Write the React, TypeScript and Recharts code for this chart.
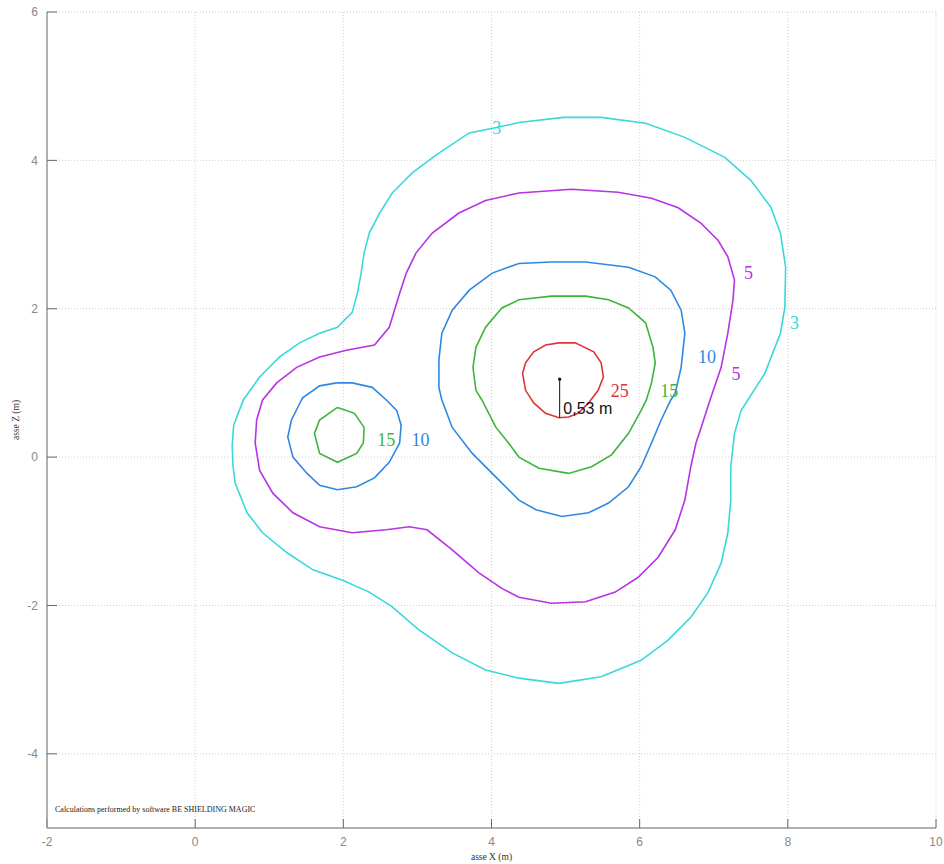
import { ScatterChart, Scatter, XAxis, YAxis, CartesianGrid } from 'recharts';

const xTicks = [-2, 0, 2, 4, 6, 8, 10];
const zTicks = [-4, -2, 0, 2, 4, 6];

// contour level 3
const c3X = [4.97, 4.37, 4.10, 3.70, 3.25, 2.93, 2.66, 2.49, 2.35, 2.28, 2.24, 2.19, 2.12, 1.92, 1.68, 1.41, 1.14, 0.87, 0.65, 0.52, 0.50, 0.51, 0.54, 0.70, 0.91, 1.24, 1.59, 1.99, 2.35, 2.66, 3.02, 3.47, 3.92, 4.37, 4.91, 5.48, 6.02, 6.38, 6.69, 6.92, 7.10, 7.19, 7.23, 7.23, 7.28, 7.37, 7.46, 7.69, 7.90, 7.96, 7.97, 7.90, 7.77, 7.50, 7.15, 6.61, 6.08, 5.48];
const c3Z = [4.58, 4.51, 4.45, 4.37, 4.07, 3.83, 3.56, 3.29, 3.02, 2.75, 2.48, 2.21, 1.95, 1.75, 1.67, 1.54, 1.35, 1.08, 0.77, 0.43, 0.16, -0.11, -0.35, -0.75, -1.02, -1.29, -1.52, -1.66, -1.82, -2.02, -2.33, -2.64, -2.87, -2.98, -3.05, -2.96, -2.74, -2.47, -2.16, -1.83, -1.43, -1.02, -0.58, -0.13, 0.32, 0.63, 0.77, 1.13, 1.67, 2.02, 2.56, 3.02, 3.37, 3.73, 4.04, 4.31, 4.50, 4.58];

// contour level 5
const c5X = [5.08, 4.37, 3.92, 3.56, 3.20, 2.98, 2.85, 2.76, 2.69, 2.62, 2.42, 2.04, 1.68, 1.37, 1.10, 0.91, 0.83, 0.81, 0.87, 1.05, 1.32, 1.68, 2.12, 2.58, 2.89, 3.13, 3.47, 3.83, 4.14, 4.37, 4.81, 5.27, 5.67, 5.98, 6.25, 6.48, 6.61, 6.69, 6.76, 6.83, 6.95, 7.10, 7.19, 7.26, 7.28, 7.19, 7.06, 6.83, 6.52, 6.16, 5.71];
const c5Z = [3.61, 3.56, 3.46, 3.29, 3.02, 2.75, 2.48, 2.21, 1.98, 1.75, 1.51, 1.44, 1.35, 1.21, 1.00, 0.77, 0.50, 0.19, -0.18, -0.49, -0.75, -0.94, -1.02, -0.98, -0.94, -0.98, -1.25, -1.56, -1.77, -1.89, -1.97, -1.95, -1.82, -1.62, -1.35, -0.98, -0.58, -0.13, 0.19, 0.40, 0.77, 1.21, 1.67, 2.12, 2.39, 2.70, 2.92, 3.15, 3.36, 3.49, 3.57];

// contour level 10 (main + small)
const c10X = [4.81, 4.37, 4.01, 3.70, 3.47, 3.33, 3.29, 3.29, 3.33, 3.47, 3.74, 4.06, 4.37, 4.60, 4.95, 5.31, 5.58, 5.85, 6.02, 6.16, 6.29, 6.42, 6.48, 6.56, 6.61, 6.56, 6.42, 6.21, 5.85, 5.27];
const c10Z = [2.63, 2.61, 2.48, 2.25, 1.98, 1.67, 1.31, 0.94, 0.77, 0.40, 0.05, -0.27, -0.58, -0.71, -0.80, -0.75, -0.62, -0.40, -0.13, 0.19, 0.50, 0.77, 0.86, 1.21, 1.67, 1.98, 2.25, 2.43, 2.56, 2.63];
const c10sX = [1.91, 1.68, 1.45, 1.30, 1.25, 1.32, 1.51, 1.68, 1.92, 2.18, 2.42, 2.62, 2.76, 2.78, 2.72, 2.58, 2.39, 2.12];
const c10sZ = [1.00, 0.96, 0.80, 0.50, 0.27, 0.00, -0.22, -0.38, -0.44, -0.40, -0.28, -0.07, 0.19, 0.43, 0.63, 0.77, 0.94, 1.00];

// contour level 15 (main + small)
const c15X = [4.81, 4.37, 4.14, 3.92, 3.79, 3.75, 3.79, 3.87, 4.06, 4.23, 4.37, 4.64, 5.04, 5.35, 5.62, 5.85, 6.02, 6.09, 6.16, 6.21, 6.18, 6.08, 5.85, 5.58, 5.27];
const c15Z = [2.17, 2.12, 2.01, 1.75, 1.48, 1.21, 0.90, 0.77, 0.40, 0.19, 0.00, -0.15, -0.22, -0.13, 0.03, 0.32, 0.63, 0.77, 1.00, 1.27, 1.48, 1.81, 2.01, 2.12, 2.17];
const c15sX = [1.92, 2.15, 2.28, 2.27, 2.18, 1.92, 1.68, 1.61, 1.68];
const c15sZ = [0.67, 0.59, 0.40, 0.19, 0.05, -0.07, 0.05, 0.32, 0.50];

// contour level 25
const c25X = [4.91, 5.13, 5.38, 5.48, 5.51, 5.44, 5.31, 5.17, 5.04, 4.91, 4.73, 4.57, 4.46, 4.42, 4.46, 4.57, 4.73];
const c25Z = [1.54, 1.54, 1.42, 1.27, 1.08, 0.90, 0.73, 0.59, 0.54, 0.53, 0.59, 0.73, 0.90, 1.13, 1.27, 1.42, 1.51];

// where the level numbers are written
const lab3X = [4.07, 8.09];
const lab3Z = [4.43, 1.81];
const lab5X = [7.47, 7.30];
const lab5Z = [2.48, 1.12];
const lab10X = [6.91, 3.04];
const lab10Z = [1.35, 0.23];
const lab15X = [6.40, 2.58];
const lab15Z = [0.89, 0.23];
const lab25X = [5.73];
const lab25Z = [0.89];

// distance marker
const markerX = [4.92, 4.92];
const markerZ = [1.05, 0.53];
const markerTextX = [4.97];
const markerTextZ = [0.65];
const markerText = '0,53 m';

const zip = (xs: number[], zs: number[]) => xs.map((x, i) => ({ x, z: zs[i] }));
const closed = (xs: number[], zs: number[]) => {
  const pts = zip(xs, zs);
  return [...pts, pts[0]];
};

const CYAN = '#3ad8d8';
const MAGENTA = '#b733e3';
const BLUE = '#2f88e0';
const GREEN = '#3db53d';
const RED = '#e0323a';

// the chart fills the whole page, so drop the default body margin
if (typeof document !== 'undefined') document.body.style.margin = '0';

const NoDot = () => <g />;

const levelText = (text: string, color: string) => (p: any) => (
  <text
    x={p.cx}
    y={p.cy}
    fill={color}
    fontSize={18}
    fontFamily="Liberation Serif"
    textAnchor="middle"
    dominantBaseline="central"
  >
    {text}
  </text>
);

const lines = [
  { key: 'c3', data: closed(c3X, c3Z), color: CYAN },
  { key: 'c5', data: closed(c5X, c5Z), color: MAGENTA },
  { key: 'c10', data: closed(c10X, c10Z), color: BLUE },
  { key: 'c10s', data: closed(c10sX, c10sZ), color: BLUE },
  { key: 'c15', data: closed(c15X, c15Z), color: GREEN },
  { key: 'c15s', data: closed(c15sX, c15sZ), color: GREEN },
  { key: 'c25', data: closed(c25X, c25Z), color: RED },
];

const labels = [
  { key: 'l3', data: zip(lab3X, lab3Z), text: '3', color: CYAN },
  { key: 'l5', data: zip(lab5X, lab5Z), text: '5', color: MAGENTA },
  { key: 'l10', data: zip(lab10X, lab10Z), text: '10', color: BLUE },
  { key: 'l15', data: zip(lab15X, lab15Z), text: '15', color: GREEN },
  { key: 'l25', data: zip(lab25X, lab25Z), text: '25', color: RED },
];

const axisTick = { fill: '#888', fontSize: 12, fontFamily: 'Liberation Sans' };

export default function App() {
  return (
    <div style={{ position: 'relative', width: 944, height: 864 }}>
      <ScatterChart width={944} height={864} margin={{ top: 12, right: 8, bottom: 0, left: 0 }}>
        <CartesianGrid xAxisId="b" yAxisId="l" stroke="#cfcfcf" strokeDasharray="1 2" />
        <XAxis
          xAxisId="b"
          dataKey="x"
          type="number"
          domain={[-2, 10]}
          ticks={xTicks}
          interval={0}
          height={36}
          tickSize={-9}
          tickMargin={18}
          tick={axisTick}
          axisLine={{ stroke: '#999', strokeWidth: 1.5 }}
          tickLine={{ stroke: '#666' }}
          label={{ value: 'asse X (m)', position: 'insideBottom', offset: 4, fill: '#333', fontSize: 9.5, fontFamily: 'Liberation Serif' }}
        />
        <XAxis
          xAxisId="t"
          orientation="top"
          type="number"
          domain={[-2, 10]}
          ticks={xTicks}
          interval={0}
          height={0}
          tickSize={-9}
          tick={false}
          axisLine={{ stroke: '#999', strokeWidth: 1.5 }}
          tickLine={{ stroke: '#666' }}
        />
        <YAxis
          yAxisId="l"
          dataKey="z"
          type="number"
          domain={[-5, 6]}
          ticks={zTicks}
          interval={0}
          width={47}
          tickSize={-10}
          tickMargin={19}
          tick={axisTick}
          axisLine={{ stroke: '#999', strokeWidth: 1.5 }}
          tickLine={{ stroke: '#666' }}
          label={{ value: 'asse Z (m)', angle: -90, position: 'insideLeft', offset: 16, fill: '#333', fontSize: 9.5, fontFamily: 'Liberation Serif', style: { textAnchor: 'middle' } }}
        />
        <YAxis
          yAxisId="r"
          orientation="right"
          type="number"
          domain={[-5, 6]}
          ticks={zTicks}
          interval={0}
          width={0}
          tickSize={-10}
          tick={false}
          axisLine={{ stroke: '#999', strokeWidth: 1.5 }}
          tickLine={{ stroke: '#666' }}
        />
        {lines.map((s) => (
          <Scatter
            key={s.key}
            xAxisId="b"
            yAxisId="l"
            data={s.data}
            line={{ stroke: s.color, strokeWidth: 1.6 }}
            shape={NoDot}
            isAnimationActive={false}
          />
        ))}
        <Scatter
          xAxisId="b"
          yAxisId="l"
          data={zip(markerX, markerZ)}
          line={{ stroke: '#111', strokeWidth: 1 }}
          shape={NoDot}
          isAnimationActive={false}
        />
        <Scatter
          xAxisId="b"
          yAxisId="l"
          data={zip(markerX, markerZ).slice(0, 1)}
          shape={(p: any) => <circle cx={p.cx} cy={p.cy} r={1.6} fill="#111" />}
          isAnimationActive={false}
        />
        {labels.map((s) => (
          <Scatter
            key={s.key}
            xAxisId="b"
            yAxisId="l"
            data={s.data}
            shape={levelText(s.text, s.color)}
            isAnimationActive={false}
          />
        ))}
        <Scatter
          xAxisId="b"
          yAxisId="l"
          data={zip(markerTextX, markerTextZ)}
          shape={(p: any) => (
            <text x={p.cx} y={p.cy} fill="#111" fontSize={16} fontFamily="Liberation Sans" dominantBaseline="central">
              {markerText}
            </text>
          )}
          isAnimationActive={false}
        />
      </ScatterChart>
      <div
        style={{
          position: 'absolute',
          left: 55,
          top: 805,
          fontSize: 8,
          lineHeight: '10px',
          fontFamily: 'Liberation Serif',
          color: '#222',
          whiteSpace: 'nowrap',
        }}
      >
        Calculations performed by software BE SHIELDING MAGIC
      </div>
    </div>
  );
}
